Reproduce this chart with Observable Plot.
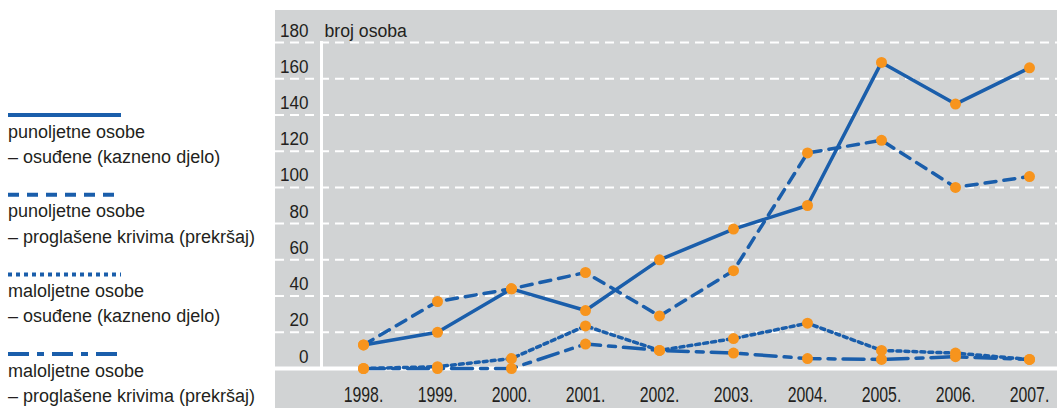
<!DOCTYPE html>
<html><head><meta charset="utf-8">
<script src="https://cdn.jsdelivr.net/npm/d3@7"></script>
<script src="https://cdn.jsdelivr.net/npm/@observablehq/plot@0.6"></script>
<style>
body{margin:0;background:#fff;}
#wrap{position:relative;width:1057px;height:408px;font-family:"Liberation Sans",Arial,sans-serif;overflow:hidden;}
#legend{position:absolute;left:0;top:0;}
#chart{position:absolute;left:275px;top:10px;}
</style></head><body><div id="wrap"><div id="legend"></div><div id="chart"></div></div>
<script>
const years = [1998, 1999, 2000, 2001, 2002, 2003, 2004, 2005, 2006, 2007];
const punoljetneOsudene = [13, 20, 44, 32, 60, 77, 90, 169, 146, 166];
const punoljetnePrekrsaj = [13, 37, 44, 53, 29, 54, 119, 126, 100, 106];
const maloljetneOsudene = [0, 1, 5.5, 23.5, 10, 16.5, 25, 10, 8.5, 5];
const maloljetnePrekrsaj = [0, 0, 0, 13.5, 10, 8.5, 5.5, 5, 6.5, 5];
const yTicks = [0, 20, 40, 60, 80, 100, 120, 140, 160, 180];
const yLabel = "broj osoba";
const seriesLabels = [
  ["punoljetne osobe", "– osuđene (kazneno djelo)"],
  ["punoljetne osobe", "– proglašene krivima (prekršaj)"],
  ["maloljetne osobe", "– osuđene (kazneno djelo)"],
  ["maloljetne osobe", "– proglašene krivima (prekršaj)"]
];
const seriesValues = [punoljetneOsudene, punoljetnePrekrsaj, maloljetneOsudene, maloljetnePrekrsaj];
const dashes = [null, "11,8", "4,4", "21,8,7,8"];

const blue = "#1a5eab";
const orange = "#f7941d";
const ink = "#231f20";

const rows = [];
seriesValues.forEach((vals, s) => vals.forEach((v, i) => rows.push({series: s, year: years[i], value: v})));

const lineMarks = [3, 2, 1, 0].map(s => Plot.line(rows.filter(r => r.series === s), {
  x: "year", y: "value", stroke: blue, strokeWidth: 3.5,
  strokeDasharray: dashes[s] || undefined, strokeLinejoin: "round"
}));

const chart = Plot.plot({
  width: 782,
  height: 398,
  marginLeft: 46,
  marginRight: 0,
  marginTop: 32,
  marginBottom: 40,
  style: {background: "#d1d3d4", fontFamily: '"Liberation Sans", Arial, sans-serif', fontSize: "19px", color: ink},
  x: {domain: [years[0], years[years.length - 1]], range: [88, 754], label: null},
  y: {domain: [0, 180], label: null},
  marks: [
    Plot.ruleY(yTicks.slice(1), {stroke: "white", strokeWidth: 2, strokeDasharray: "9,6", insetLeft: -46}),
    Plot.ruleY([0], {stroke: "white", strokeWidth: 4, insetLeft: -46}),
    Plot.frame({anchor: "left", stroke: "white", strokeWidth: 3}),
    Plot.axisY({ticks: yTicks, anchor: "left", tickSize: 0, tickPadding: 13, dy: -12, fill: ink, label: null}),
    Plot.text([yLabel], {frameAnchor: "top-left", lineAnchor: "middle", dx: 3, dy: -12, textAnchor: "start", fill: ink}),
    ...lineMarks,
    Plot.dot(rows, {x: "year", y: "value", r: 5.5, fill: orange, stroke: null}),
    Plot.axisX({ticks: years, tickFormat: d => d + ".", tickSize: 0, tickPadding: 18, fill: ink, label: null})
  ]
});
document.getElementById("chart").appendChild(chart);

// horizontally condense text glyphs (the reference uses a condensed face)
function condense(sel, f) {
  sel.each(function() {
    const xa = this.getAttribute("x");
    const t = this.getAttribute("transform") || "";
    if (xa !== null && !isNaN(+xa)) this.setAttribute("x", (+xa) / f);
    this.setAttribute("transform", `${t} scale(${f},1)`);
  });
}
const svg = d3.select(chart);
svg.selectAll('g[aria-label="x-axis tick label"]').attr("font-size", 22);
condense(svg.selectAll('g[aria-label="x-axis tick label"] text'), 0.72);
condense(svg.selectAll('g[aria-label="y-axis tick label"] text'), 0.9);
condense(svg.selectAll('g[aria-label="text"] text'), 0.93);

// legend
const leg = d3.select("#legend").append("svg").attr("width", 275).attr("height", 408)
  .style("font-family", '"Liberation Sans", Arial, sans-serif').style("font-size", "18px");
seriesLabels.forEach((lab, i) => {
  const y0 = 115 + i * 79.7;
  const ln = leg.append("line").attr("x1", 8).attr("x2", 121).attr("y1", y0).attr("y2", y0)
    .attr("stroke", blue).attr("stroke-width", 4);
  if (dashes[i]) ln.attr("stroke-dasharray", dashes[i]);
  lab.forEach((t, j) => {
    leg.append("text").attr("x", 8).attr("y", y0 + 22.5 + j * 25.5).attr("fill", ink).text(t);
  });
});
</script>
</body></html>
